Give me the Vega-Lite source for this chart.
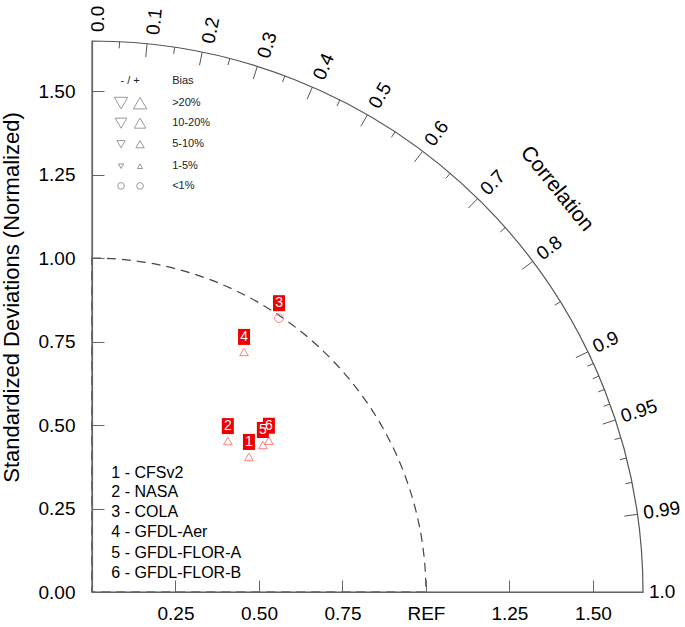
{
  "$schema": "https://vega.github.io/schema/vega-lite/v6.json",
  "width": 551,
  "height": 551,
  "autosize": {"type": "none"},
  "padding": {"left": 92, "top": 41, "right": 42, "bottom": 35},
  "background": "white",
  "config": {"view": {"stroke": null}, "font": "Liberation Sans"},
  "datasets": {
    "models": [
      {"id": "1", "name": "CFSv2", "std": 0.620, "corr": 0.758, "sign": "+", "bias": "5-10%"},
      {"id": "2", "name": "NASA", "std": 0.608, "corr": 0.669, "sign": "+", "bias": "5-10%"},
      {"id": "3", "name": "COLA", "std": 0.993, "corr": 0.564, "sign": "+", "bias": "<1%"},
      {"id": "4", "name": "GFDL-Aer", "std": 0.851, "corr": 0.535, "sign": "+", "bias": "5-10%"},
      {"id": "6", "name": "GFDL-FLOR-B", "std": 0.697, "corr": 0.760, "sign": "+", "bias": "5-10%"},
      {"id": "5", "name": "GFDL-FLOR-A", "std": 0.675, "corr": 0.758, "sign": "+", "bias": "5-10%"}
    ],
    "corrLabels": [
      {"c": 0.0, "label": "0.0"}, {"c": 0.1, "label": "0.1"}, {"c": 0.2, "label": "0.2"},
      {"c": 0.3, "label": "0.3"}, {"c": 0.4, "label": "0.4"}, {"c": 0.5, "label": "0.5"},
      {"c": 0.6, "label": "0.6"}, {"c": 0.7, "label": "0.7"}, {"c": 0.8, "label": "0.8"},
      {"c": 0.9, "label": "0.9"}, {"c": 0.95, "label": "0.95"}, {"c": 0.99, "label": "0.99"},
      {"c": 1.0, "label": "1.0"}
    ],
    "majorTicks": [
      {"c": 0.1}, {"c": 0.2}, {"c": 0.3}, {"c": 0.4}, {"c": 0.5}, {"c": 0.6},
      {"c": 0.7}, {"c": 0.8}, {"c": 0.9}, {"c": 0.95}, {"c": 0.99}
    ],
    "minorTicks": [
      {"c": 0.05}, {"c": 0.15}, {"c": 0.25}, {"c": 0.35}, {"c": 0.45}, {"c": 0.55},
      {"c": 0.65}, {"c": 0.75}, {"c": 0.85}, {"c": 0.91}, {"c": 0.92}, {"c": 0.93},
      {"c": 0.94}, {"c": 0.96}, {"c": 0.97}, {"c": 0.98}
    ],
    "biasSymbols": [
      {"sign": "-", "bias": ">20%", "x": 0.087, "y": 1.464},
      {"sign": "+", "bias": ">20%", "x": 0.144, "y": 1.464},
      {"sign": "-", "bias": "10-20%", "x": 0.087, "y": 1.404},
      {"sign": "+", "bias": "10-20%", "x": 0.144, "y": 1.404},
      {"sign": "-", "bias": "5-10%", "x": 0.087, "y": 1.341},
      {"sign": "+", "bias": "5-10%", "x": 0.144, "y": 1.341},
      {"sign": "-", "bias": "1-5%", "x": 0.087, "y": 1.275},
      {"sign": "+", "bias": "1-5%", "x": 0.144, "y": 1.275},
      {"sign": "-", "bias": "<1%", "x": 0.087, "y": 1.216},
      {"sign": "+", "bias": "<1%", "x": 0.144, "y": 1.216}
    ],
    "biasText": [
      {"text": "Bias", "y": 1.530},
      {"text": ">20%", "y": 1.464},
      {"text": "10-20%", "y": 1.404},
      {"text": "5-10%", "y": 1.341},
      {"text": "1-5%", "y": 1.275},
      {"text": "<1%", "y": 1.216}
    ],
    "modelList": [
      {"text": "1 - CFSv2", "y": 0.356},
      {"text": "2 - NASA", "y": 0.299},
      {"text": "3 - COLA", "y": 0.240},
      {"text": "4 - GFDL-Aer", "y": 0.180},
      {"text": "5 - GFDL-FLOR-A", "y": 0.117},
      {"text": "6 - GFDL-FLOR-B", "y": 0.057}
    ]
  },
  "layer": [
    {
      "data": {"values": [{"r": 1.65}]},
      "mark": {"type": "arc", "filled": false, "stroke": "#555", "strokeWidth": 1.2, "theta": 0, "theta2": 1.5707963},
      "encoding": {
        "x": {
          "datum": 0, "type": "quantitative",
          "scale": {"domain": [0, 1.65], "nice": false, "zero": true},
          "axis": {
            "title": null, "grid": false, "zindex": 1,
            "values": [0, 0.25, 0.5, 0.75, 1, 1.25, 1.5],
            "labelExpr": "datum.value == 0 ? '' : (datum.value == 1 ? 'REF' : format(datum.value, '.2f'))",
            "tickSize": -12, "labelPadding": 24, "labelFontSize": 19, "labelColor": "#000",
            "domainColor": "#666", "tickColor": "#666", "domainWidth": 1.2,
            "labelFlush": false, "labelOverlap": false
          }
        },
        "y": {
          "datum": 0, "type": "quantitative",
          "scale": {"domain": [0, 1.65], "nice": false, "zero": true},
          "axis": {
            "title": "Standardized Deviations (Normalized)", "grid": false, "zindex": 1,
            "values": [0, 0.25, 0.5, 0.75, 1, 1.25, 1.5], "format": ".2f",
            "tickSize": -12, "labelPadding": 29, "labelFontSize": 19, "labelColor": "#000",
            "domainColor": "#666", "tickColor": "#666", "domainWidth": 1.2,
            "titleFontSize": 22, "titleFontWeight": "normal", "titleColor": "#000", "titlePadding": 15,
            "titleY": 256, "titleAlign": "center",
            "labelFlush": false, "labelOverlap": false
          }
        },
        "radius": {"field": "r", "type": "quantitative", "scale": {"type": "linear", "domain": [0, 1.65], "range": [0, 551], "zero": true}}
      }
    },
    {
      "data": {"values": [{"r": 1.0}]},
      "mark": {"type": "arc", "filled": false, "stroke": "#444", "strokeWidth": 1.2, "strokeDash": [9, 6], "theta": 0, "theta2": 1.5707963},
      "encoding": {
        "x": {"datum": 0, "type": "quantitative"},
        "y": {"datum": 0, "type": "quantitative"},
        "radius": {"field": "r", "type": "quantitative"}
      }
    },
    {
      "data": {"name": "majorTicks"},
      "transform": [
        {"calculate": "1.65*datum.c", "as": "x"},
        {"calculate": "1.65*sqrt(1-datum.c*datum.c)", "as": "y"},
        {"calculate": "1.61*datum.c", "as": "x2"},
        {"calculate": "1.61*sqrt(1-datum.c*datum.c)", "as": "y2"}
      ],
      "mark": {"type": "rule", "stroke": "#555", "strokeWidth": 1},
      "encoding": {
        "x": {"field": "x", "type": "quantitative"},
        "y": {"field": "y", "type": "quantitative"},
        "x2": {"field": "x2"},
        "y2": {"field": "y2"}
      }
    },
    {
      "data": {"name": "minorTicks"},
      "transform": [
        {"calculate": "1.65*datum.c", "as": "x"},
        {"calculate": "1.65*sqrt(1-datum.c*datum.c)", "as": "y"},
        {"calculate": "1.63*datum.c", "as": "x2"},
        {"calculate": "1.63*sqrt(1-datum.c*datum.c)", "as": "y2"}
      ],
      "mark": {"type": "rule", "stroke": "#555", "strokeWidth": 1},
      "encoding": {
        "x": {"field": "x", "type": "quantitative"},
        "y": {"field": "y", "type": "quantitative"},
        "x2": {"field": "x2"},
        "y2": {"field": "y2"}
      }
    },
    {
      "data": {"name": "corrLabels"},
      "transform": [
        {"calculate": "1.65*datum.c + 0.018", "as": "x"},
        {"calculate": "1.677*sqrt(1-datum.c*datum.c)", "as": "y"},
        {"calculate": "-acos(datum.c)*180/PI", "as": "ang"}
      ],
      "mark": {"type": "text", "align": "left", "baseline": "middle", "fontSize": 19, "color": "#000"},
      "encoding": {
        "x": {"field": "x", "type": "quantitative"},
        "y": {"field": "y", "type": "quantitative"},
        "text": {"field": "label"},
        "angle": {"field": "ang", "type": "quantitative", "scale": null}
      }
    },
    {
      "data": {"values": [{"t": "Correlation"}]},
      "mark": {"type": "text", "align": "center", "baseline": "middle", "fontSize": 21, "angle": 51, "color": "#000"},
      "encoding": {
        "x": {"datum": 1.392, "type": "quantitative"},
        "y": {"datum": 1.207, "type": "quantitative"},
        "text": {"field": "t"}
      }
    },
    {
      "data": {"name": "models"},
      "transform": [
        {"calculate": "datum.std*datum.corr", "as": "x"},
        {"calculate": "datum.std*sqrt(1-datum.corr*datum.corr)", "as": "y"}
      ],
      "mark": {"type": "point", "filled": false, "stroke": "#ff7f7f", "strokeWidth": 1, "size": 75, "opacity": 1},
      "encoding": {
        "x": {"field": "x", "type": "quantitative"},
        "y": {"field": "y", "type": "quantitative"},
        "shape": {
          "condition": {"test": "datum.bias === '<1%'", "value": "circle"},
          "field": "sign", "type": "nominal",
          "scale": {"domain": ["-", "+"], "range": ["triangle-down", "triangle-up"]},
          "legend": null
        }
      }
    },
    {
      "data": {"name": "models"},
      "transform": [
        {"calculate": "datum.std*datum.corr", "as": "x"},
        {"calculate": "datum.std*sqrt(1-datum.corr*datum.corr)", "as": "y"}
      ],
      "mark": {"type": "point", "shape": "M-0.75,-1H0.75V1H-0.75Z", "filled": true, "color": "#f00000", "opacity": 1, "size": 256, "yOffset": -15, "strokeWidth": 0},
      "encoding": {
        "x": {"field": "x", "type": "quantitative"},
        "y": {"field": "y", "type": "quantitative"}
      }
    },
    {
      "data": {"name": "models"},
      "transform": [
        {"calculate": "datum.std*datum.corr", "as": "x"},
        {"calculate": "datum.std*sqrt(1-datum.corr*datum.corr)", "as": "y"}
      ],
      "mark": {"type": "text", "align": "center", "baseline": "middle", "fontSize": 14, "color": "white", "dy": -15},
      "encoding": {
        "x": {"field": "x", "type": "quantitative"},
        "y": {"field": "y", "type": "quantitative"},
        "text": {"field": "id"}
      }
    },
    {
      "data": {"name": "biasSymbols"},
      "mark": {"type": "point", "filled": false, "stroke": "#999", "strokeWidth": 1, "opacity": 1},
      "encoding": {
        "x": {"field": "x", "type": "quantitative"},
        "y": {"field": "y", "type": "quantitative"},
        "shape": {
          "condition": {"test": "datum.bias === '<1%'", "value": "circle"},
          "field": "sign", "type": "nominal",
          "legend": null
        },
        "size": {
          "field": "bias", "type": "nominal",
          "scale": {"type": "ordinal", "domain": [">20%", "10-20%", "5-10%", "1-5%", "<1%"], "range": [180, 135, 70, 28, 45]},
          "legend": null
        }
      }
    },
    {
      "data": {"name": "biasText"},
      "mark": {"type": "text", "align": "left", "baseline": "middle", "fontSize": 11, "color": "#222"},
      "encoding": {
        "x": {"datum": 0.240, "type": "quantitative"},
        "y": {"field": "y", "type": "quantitative"},
        "text": {"field": "text"}
      }
    },
    {
      "data": {"values": [{"t": "- / +"}]},
      "mark": {"type": "text", "align": "center", "baseline": "middle", "fontSize": 11, "color": "#222"},
      "encoding": {
        "x": {"datum": 0.114, "type": "quantitative"},
        "y": {"datum": 1.530, "type": "quantitative"},
        "text": {"field": "t"}
      }
    },
    {
      "data": {"name": "modelList"},
      "mark": {"type": "text", "align": "left", "baseline": "middle", "fontSize": 16, "color": "#000"},
      "encoding": {
        "x": {"datum": 0.058, "type": "quantitative"},
        "y": {"field": "y", "type": "quantitative"},
        "text": {"field": "text"}
      }
    }
  ]
}
